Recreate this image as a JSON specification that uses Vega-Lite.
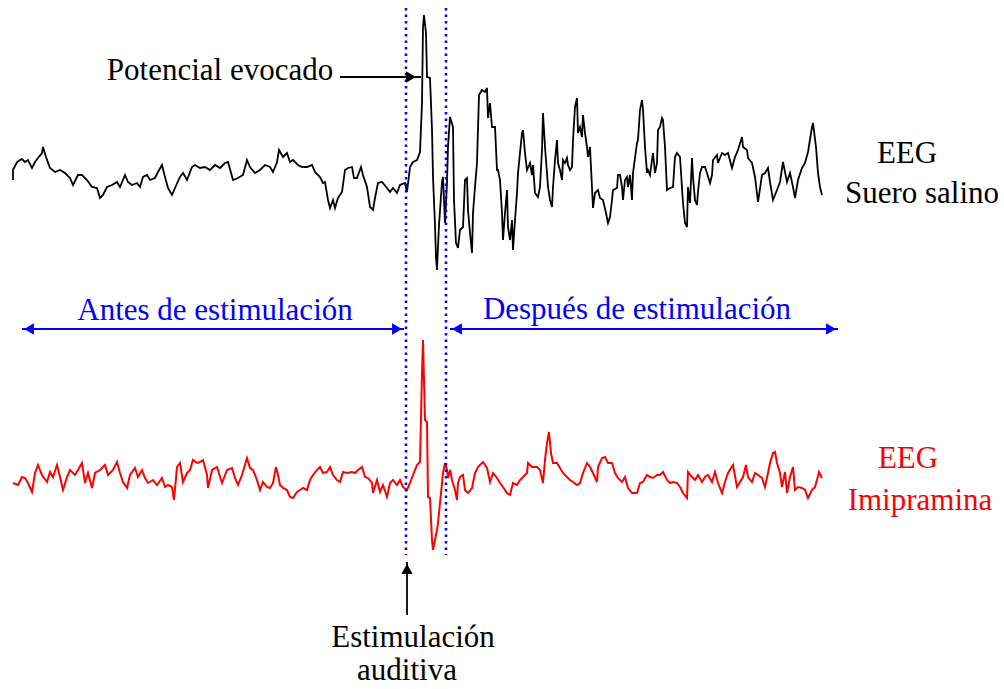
{
  "$schema": "https://vega.github.io/schema/vega-lite/v6.json",
  "width": 1004,
  "height": 689,
  "padding": 0,
  "autosize": {"type": "fit", "contains": "padding"},
  "background": "white",
  "config": {"view": {"stroke": null}},
  "datasets": {
    "salino": [
      {"x":13,"y":180},{"x":13,"y":170},{"x":17,"y":162},{"x":20,"y":160},{"x":22,"y":159},{"x":25,"y":162},{"x":28,"y":160},{"x":32,"y":168},{"x":35,"y":162},{"x":38,"y":158},{"x":42,"y":153},{"x":43,"y":147},{"x":46,"y":157},{"x":50,"y":168},{"x":55,"y":172},{"x":60,"y":170},{"x":65,"y":173},{"x":70,"y":178},{"x":73,"y":185},{"x":78,"y":175},{"x":82,"y":175},{"x":87,"y":180},{"x":92,"y":187},{"x":97,"y":188},{"x":100,"y":198},{"x":103,"y":195},{"x":107,"y":187},{"x":112,"y":185},{"x":117,"y":182},{"x":120,"y":187},{"x":125,"y":175},{"x":128,"y":182},{"x":132,"y":185},{"x":137,"y":183},{"x":140,"y":187},{"x":143,"y":177},{"x":147,"y":175},{"x":150,"y":180},{"x":155,"y":178},{"x":158,"y":172},{"x":162,"y":165},{"x":165,"y":177},{"x":168,"y":188},{"x":172,"y":195},{"x":175,"y":188},{"x":180,"y":177},{"x":183,"y":173},{"x":187,"y":180},{"x":192,"y":167},{"x":195,"y":165},{"x":200,"y":168},{"x":205,"y":167},{"x":210,"y":170},{"x":215,"y":165},{"x":220,"y":168},{"x":225,"y":163},{"x":228,"y":162},{"x":233,"y":180},{"x":238,"y":178},{"x":243,"y":175},{"x":247,"y":160},{"x":250,"y":167},{"x":255,"y":173},{"x":260,"y":170},{"x":265,"y":165},{"x":270,"y":167},{"x":273,"y":172},{"x":277,"y":162},{"x":279,"y":150},{"x":283,"y":157},{"x":287,"y":153},{"x":290,"y":162},{"x":293,"y":160},{"x":298,"y":165},{"x":302,"y":167},{"x":307,"y":167},{"x":312,"y":165},{"x":315,"y":172},{"x":320,"y":177},{"x":323,"y":183},{"x":325,"y":182},{"x":328,"y":200},{"x":330,"y":208},{"x":333,"y":200},{"x":335,"y":208},{"x":338,"y":198},{"x":342,"y":192},{"x":345,"y":170},{"x":348,"y":168},{"x":352,"y":167},{"x":354,"y":178},{"x":357,"y":178},{"x":361,"y":167},{"x":363,"y":175},{"x":367,"y":187},{"x":370,"y":207},{"x":373,"y":210},{"x":375,"y":198},{"x":378,"y":183},{"x":382,"y":182},{"x":387,"y":188},{"x":390,"y":192},{"x":393,"y":188},{"x":397,"y":193},{"x":400,"y":185},{"x":405,"y":183},{"x":407,"y":192},{"x":410,"y":167},{"x":413,"y":162},{"x":417,"y":160},{"x":420,"y":152},{"x":422,"y":103},{"x":423,"y":27},{"x":424,"y":15},{"x":426,"y":33},{"x":427,"y":77},{"x":430,"y":78},{"x":432,"y":130},{"x":433,"y":177},{"x":435,"y":225},{"x":436,"y":258},{"x":437,"y":270},{"x":439,"y":225},{"x":442,"y":182},{"x":443,"y":177},{"x":445,"y":223},{"x":447,"y":182},{"x":448,"y":147},{"x":450,"y":117},{"x":453,"y":127},{"x":454,"y":200},{"x":456,"y":243},{"x":458,"y":248},{"x":460,"y":230},{"x":463,"y":227},{"x":465,"y":180},{"x":467,"y":178},{"x":468,"y":210},{"x":470,"y":233},{"x":472,"y":253},{"x":473,"y":213},{"x":475,"y":187},{"x":477,"y":163},{"x":479,"y":95},{"x":482,"y":90},{"x":485,"y":92},{"x":487,"y":88},{"x":488,"y":118},{"x":490,"y":103},{"x":492,"y":127},{"x":495,"y":127},{"x":497,"y":170},{"x":498,"y":170},{"x":500,"y":180},{"x":502,"y":213},{"x":503,"y":240},{"x":505,"y":213},{"x":507,"y":190},{"x":508,"y":227},{"x":510,"y":240},{"x":512,"y":220},{"x":513,"y":250},{"x":515,"y":220},{"x":517,"y":193},{"x":518,"y":173},{"x":522,"y":133},{"x":523,"y":130},{"x":525,"y":153},{"x":527,"y":170},{"x":530,"y":163},{"x":532,"y":175},{"x":533,"y":165},{"x":535,"y":193},{"x":538,"y":197},{"x":540,"y":187},{"x":542,"y":150},{"x":543,"y":113},{"x":545,"y":147},{"x":547,"y":173},{"x":548,"y":187},{"x":550,"y":200},{"x":552,"y":207},{"x":553,"y":187},{"x":555,"y":160},{"x":557,"y":140},{"x":558,"y":163},{"x":560,"y":170},{"x":562,"y":180},{"x":563,"y":160},{"x":565,"y":163},{"x":567,"y":158},{"x":568,"y":165},{"x":570,"y":170},{"x":572,"y":167},{"x":573,"y":140},{"x":575,"y":107},{"x":577,"y":98},{"x":578,"y":133},{"x":580,"y":127},{"x":582,"y":137},{"x":583,"y":115},{"x":585,"y":133},{"x":587,"y":147},{"x":588,"y":157},{"x":590,"y":147},{"x":592,"y":188},{"x":593,"y":208},{"x":595,"y":193},{"x":598,"y":190},{"x":600,"y":198},{"x":603,"y":200},{"x":606,"y":213},{"x":608,"y":223},{"x":610,"y":217},{"x":612,"y":200},{"x":613,"y":190},{"x":617,"y":188},{"x":618,"y":175},{"x":620,"y":175},{"x":622,"y":187},{"x":623,"y":200},{"x":625,"y":180},{"x":627,"y":177},{"x":628,"y":187},{"x":630,"y":175},{"x":632,"y":200},{"x":633,"y":173},{"x":637,"y":143},{"x":638,"y":140},{"x":640,"y":110},{"x":642,"y":100},{"x":643,"y":110},{"x":645,"y":147},{"x":647,"y":173},{"x":648,"y":170},{"x":650,"y":175},{"x":652,"y":160},{"x":653,"y":153},{"x":655,"y":173},{"x":657,"y":163},{"x":658,"y":130},{"x":660,"y":127},{"x":662,"y":118},{"x":663,"y":120},{"x":665,"y":147},{"x":667,"y":190},{"x":670,"y":188},{"x":673,"y":187},{"x":675,"y":157},{"x":677,"y":153},{"x":680,"y":157},{"x":683,"y":203},{"x":685,"y":223},{"x":687,"y":227},{"x":688,"y":187},{"x":690,"y":203},{"x":692,"y":158},{"x":693,"y":177},{"x":695,"y":200},{"x":697,"y":205},{"x":698,"y":192},{"x":700,"y":173},{"x":702,"y":167},{"x":705,"y":167},{"x":707,"y":173},{"x":710,"y":183},{"x":712,"y":175},{"x":713,"y":160},{"x":717,"y":155},{"x":718,"y":163},{"x":722,"y":153},{"x":725,"y":155},{"x":728,"y":153},{"x":732,"y":168},{"x":735,"y":157},{"x":738,"y":150},{"x":742,"y":137},{"x":743,"y":147},{"x":747,"y":150},{"x":748,"y":158},{"x":752,"y":163},{"x":755,"y":177},{"x":758,"y":202},{"x":762,"y":175},{"x":765,"y":173},{"x":768,"y":168},{"x":770,"y":182},{"x":773,"y":200},{"x":777,"y":190},{"x":780,"y":182},{"x":783,"y":162},{"x":787,"y":182},{"x":790,"y":173},{"x":793,"y":187},{"x":795,"y":198},{"x":798,"y":180},{"x":802,"y":168},{"x":805,"y":163},{"x":808,"y":152},{"x":812,"y":127},{"x":813,"y":123},{"x":816,"y":147},{"x":818,"y":173},{"x":820,"y":187},{"x":822,"y":195}
    ],
    "imipramina": [
      {"x":13,"y":483},{"x":18,"y":485},{"x":22,"y":477},{"x":25,"y":478},{"x":28,"y":483},{"x":32,"y":492},{"x":35,"y":473},{"x":38,"y":465},{"x":42,"y":475},{"x":47,"y":482},{"x":50,"y":472},{"x":53,"y":477},{"x":57,"y":465},{"x":60,"y":477},{"x":63,"y":490},{"x":67,"y":477},{"x":70,"y":470},{"x":75,"y":475},{"x":78,"y":470},{"x":82,"y":463},{"x":85,"y":483},{"x":88,"y":473},{"x":92,"y":488},{"x":95,"y":473},{"x":100,"y":470},{"x":105,"y":465},{"x":108,"y":475},{"x":113,"y":470},{"x":117,"y":462},{"x":120,"y":473},{"x":123,"y":482},{"x":127,"y":488},{"x":130,"y":475},{"x":135,"y":468},{"x":138,"y":477},{"x":142,"y":470},{"x":145,"y":478},{"x":148,"y":483},{"x":153,"y":480},{"x":157,"y":485},{"x":162,"y":478},{"x":165,"y":487},{"x":168,"y":485},{"x":172,"y":487},{"x":174,"y":500},{"x":177,"y":467},{"x":180,"y":463},{"x":183,"y":482},{"x":187,"y":473},{"x":190,"y":470},{"x":193,"y":460},{"x":197,"y":463},{"x":200,"y":462},{"x":203,"y":460},{"x":207,"y":475},{"x":208,"y":488},{"x":212,"y":470},{"x":217,"y":467},{"x":222,"y":483},{"x":227,"y":470},{"x":232,"y":468},{"x":235,"y":478},{"x":238,"y":485},{"x":242,"y":475},{"x":247,"y":458},{"x":250,"y":468},{"x":253,"y":470},{"x":257,"y":480},{"x":260,"y":490},{"x":263,"y":482},{"x":267,"y":487},{"x":270,"y":488},{"x":273,"y":483},{"x":276,"y":467},{"x":278,"y":475},{"x":280,"y":485},{"x":283,"y":488},{"x":287,"y":490},{"x":290,"y":497},{"x":293,"y":498},{"x":297,"y":492},{"x":300,"y":490},{"x":303,"y":488},{"x":307,"y":490},{"x":310,"y":480},{"x":313,"y":475},{"x":317,"y":470},{"x":320,"y":467},{"x":323,"y":473},{"x":327,"y":472},{"x":330,"y":467},{"x":333,"y":475},{"x":337,"y":480},{"x":340,"y":482},{"x":343,"y":472},{"x":347,"y":473},{"x":352,"y":472},{"x":355,"y":473},{"x":358,"y":470},{"x":362,"y":467},{"x":365,"y":477},{"x":368,"y":478},{"x":372,"y":483},{"x":373,"y":493},{"x":377,"y":480},{"x":380,"y":492},{"x":383,"y":485},{"x":387,"y":497},{"x":390,"y":483},{"x":393,"y":480},{"x":397,"y":485},{"x":400,"y":480},{"x":403,"y":487},{"x":407,"y":490},{"x":410,"y":483},{"x":413,"y":475},{"x":417,"y":465},{"x":420,"y":462},{"x":422,"y":373},{"x":423,"y":340},{"x":425,"y":420},{"x":427,"y":422},{"x":428,"y":497},{"x":430,"y":498},{"x":432,"y":540},{"x":433,"y":550},{"x":435,"y":540},{"x":437,"y":530},{"x":438,"y":523},{"x":440,"y":503},{"x":442,"y":483},{"x":443,"y":473},{"x":445,"y":463},{"x":447,"y":470},{"x":448,"y":478},{"x":450,"y":470},{"x":452,"y":480},{"x":455,"y":490},{"x":457,"y":500},{"x":458,"y":483},{"x":460,"y":477},{"x":463,"y":475},{"x":465,"y":490},{"x":468,"y":493},{"x":472,"y":488},{"x":475,"y":473},{"x":478,"y":467},{"x":483,"y":462},{"x":487,"y":468},{"x":490,"y":482},{"x":493,"y":473},{"x":497,"y":478},{"x":500,"y":483},{"x":503,"y":487},{"x":507,"y":493},{"x":510,"y":495},{"x":513,"y":483},{"x":517,"y":485},{"x":520,"y":480},{"x":523,"y":477},{"x":527,"y":473},{"x":528,"y":463},{"x":532,"y":467},{"x":537,"y":467},{"x":540,"y":470},{"x":543,"y":483},{"x":545,"y":460},{"x":547,"y":443},{"x":549,"y":432},{"x":551,"y":453},{"x":553,"y":463},{"x":557,"y":463},{"x":560,"y":468},{"x":563,"y":473},{"x":567,"y":477},{"x":570,"y":480},{"x":573,"y":482},{"x":577,"y":485},{"x":580,"y":483},{"x":583,"y":473},{"x":587,"y":463},{"x":590,"y":467},{"x":593,"y":473},{"x":597,"y":482},{"x":598,"y":467},{"x":602,"y":458},{"x":605,"y":457},{"x":608,"y":463},{"x":612,"y":463},{"x":615,"y":473},{"x":618,"y":478},{"x":622,"y":482},{"x":625,"y":477},{"x":628,"y":488},{"x":632,"y":493},{"x":637,"y":493},{"x":640,"y":483},{"x":643,"y":482},{"x":647,"y":475},{"x":650,"y":477},{"x":653,"y":478},{"x":657,"y":475},{"x":660,"y":475},{"x":663,"y":472},{"x":667,"y":480},{"x":670,"y":483},{"x":673,"y":482},{"x":677,"y":483},{"x":680,"y":487},{"x":683,"y":493},{"x":687,"y":498},{"x":688,"y":472},{"x":692,"y":477},{"x":695,"y":480},{"x":698,"y":475},{"x":702,"y":482},{"x":705,"y":477},{"x":708,"y":475},{"x":712,"y":482},{"x":715,"y":472},{"x":718,"y":483},{"x":722,"y":493},{"x":725,"y":482},{"x":728,"y":473},{"x":733,"y":465},{"x":737,"y":487},{"x":740,"y":482},{"x":743,"y":477},{"x":746,"y":465},{"x":748,"y":477},{"x":752,"y":482},{"x":755,"y":473},{"x":758,"y":475},{"x":762,"y":478},{"x":765,"y":487},{"x":768,"y":473},{"x":770,"y":463},{"x":773,"y":453},{"x":775,"y":452},{"x":777,"y":463},{"x":780,"y":473},{"x":782,"y":487},{"x":785,"y":472},{"x":787,"y":493},{"x":790,"y":477},{"x":793,"y":467},{"x":795,"y":490},{"x":798,"y":487},{"x":802,"y":488},{"x":805,"y":490},{"x":808,"y":498},{"x":812,"y":490},{"x":815,"y":487},{"x":817,"y":480},{"x":819,"y":472},{"x":822,"y":478}
    ]
  },
  "encoding": {
    "x": {"field": "x", "type": "quantitative", "scale": {"domain": [0, 1004], "nice": false, "zero": false}, "axis": null},
    "y": {"field": "y", "type": "quantitative", "scale": {"domain": [0, 689], "reverse": true, "nice": false, "zero": false}, "axis": null}
  },
  "layer": [
    {
      "data": {"name": "salino"},
      "mark": {"type": "line", "color": "#000000", "strokeWidth": 1.8, "interpolate": "linear"},
      "encoding": {"order": {"value": null}}
    },
    {
      "data": {"name": "imipramina"},
      "mark": {"type": "line", "color": "#ff0000", "strokeWidth": 2, "interpolate": "linear"},
      "encoding": {"order": {"value": null}}
    },
    {
      "data": {"values": [{"x": 406, "y": 8, "y2": 555}, {"x": 446, "y": 8, "y2": 555}]},
      "mark": {"type": "rule", "color": "#0000ff", "strokeWidth": 2.5, "strokeDash": [2.5, 4]},
      "encoding": {"y2": {"field": "y2"}}
    },
    {
      "data": {"values": [{"x": 22, "x2": 404, "y": 329}, {"x": 450, "x2": 838, "y": 329}]},
      "mark": {"type": "rule", "color": "#0000ff", "strokeWidth": 2},
      "encoding": {"x2": {"field": "x2"}}
    },
    {
      "data": {"values": [{"x": 29, "y": 329}, {"x": 457, "y": 329}]},
      "mark": {"type": "point", "shape": "triangle-left", "filled": true, "color": "#0000ff", "size": 130, "opacity": 1}
    },
    {
      "data": {"values": [{"x": 397, "y": 329}, {"x": 831, "y": 329}]},
      "mark": {"type": "point", "shape": "triangle-right", "filled": true, "color": "#0000ff", "size": 130, "opacity": 1}
    },
    {
      "data": {"values": [{"x": 340, "x2": 421, "y": 77}]},
      "mark": {"type": "rule", "color": "#000000", "strokeWidth": 1.8},
      "encoding": {"x2": {"field": "x2"}}
    },
    {
      "data": {"values": [{"x": 411, "y": 77}]},
      "mark": {"type": "point", "shape": "triangle-right", "filled": true, "color": "#000000", "size": 130, "opacity": 1}
    },
    {
      "data": {"values": [{"x": 407, "y": 562, "y2": 615}]},
      "mark": {"type": "rule", "color": "#000000", "strokeWidth": 1.8},
      "encoding": {"y2": {"field": "y2"}}
    },
    {
      "data": {"values": [{"x": 407, "y": 569}]},
      "mark": {"type": "point", "shape": "triangle-up", "filled": true, "color": "#000000", "size": 130, "opacity": 1}
    },
    {
      "data": {"values": [
        {"x": 220, "y": 80, "t": "Potencial evocado"},
        {"x": 907, "y": 163, "t": "EEG"},
        {"x": 922, "y": 203, "t": "Suero salino"},
        {"x": 413, "y": 647, "t": "Estimulación"},
        {"x": 407, "y": 680, "t": "auditiva"}
      ]},
      "mark": {"type": "text", "font": "Liberation Serif", "fontSize": 31, "color": "#000000", "align": "center", "baseline": "alphabetic"},
      "encoding": {"text": {"field": "t"}}
    },
    {
      "data": {"values": [
        {"x": 215, "y": 320, "t": "Antes de estimulación"},
        {"x": 637, "y": 319, "t": "Después de estimulación"}
      ]},
      "mark": {"type": "text", "font": "Liberation Serif", "fontSize": 31, "color": "#0000ff", "align": "center", "baseline": "alphabetic"},
      "encoding": {"text": {"field": "t"}}
    },
    {
      "data": {"values": [
        {"x": 908, "y": 468, "t": "EEG"},
        {"x": 920, "y": 510, "t": "Imipramina"}
      ]},
      "mark": {"type": "text", "font": "Liberation Serif", "fontSize": 31, "color": "#ff0000", "align": "center", "baseline": "alphabetic"},
      "encoding": {"text": {"field": "t"}}
    }
  ]
}
